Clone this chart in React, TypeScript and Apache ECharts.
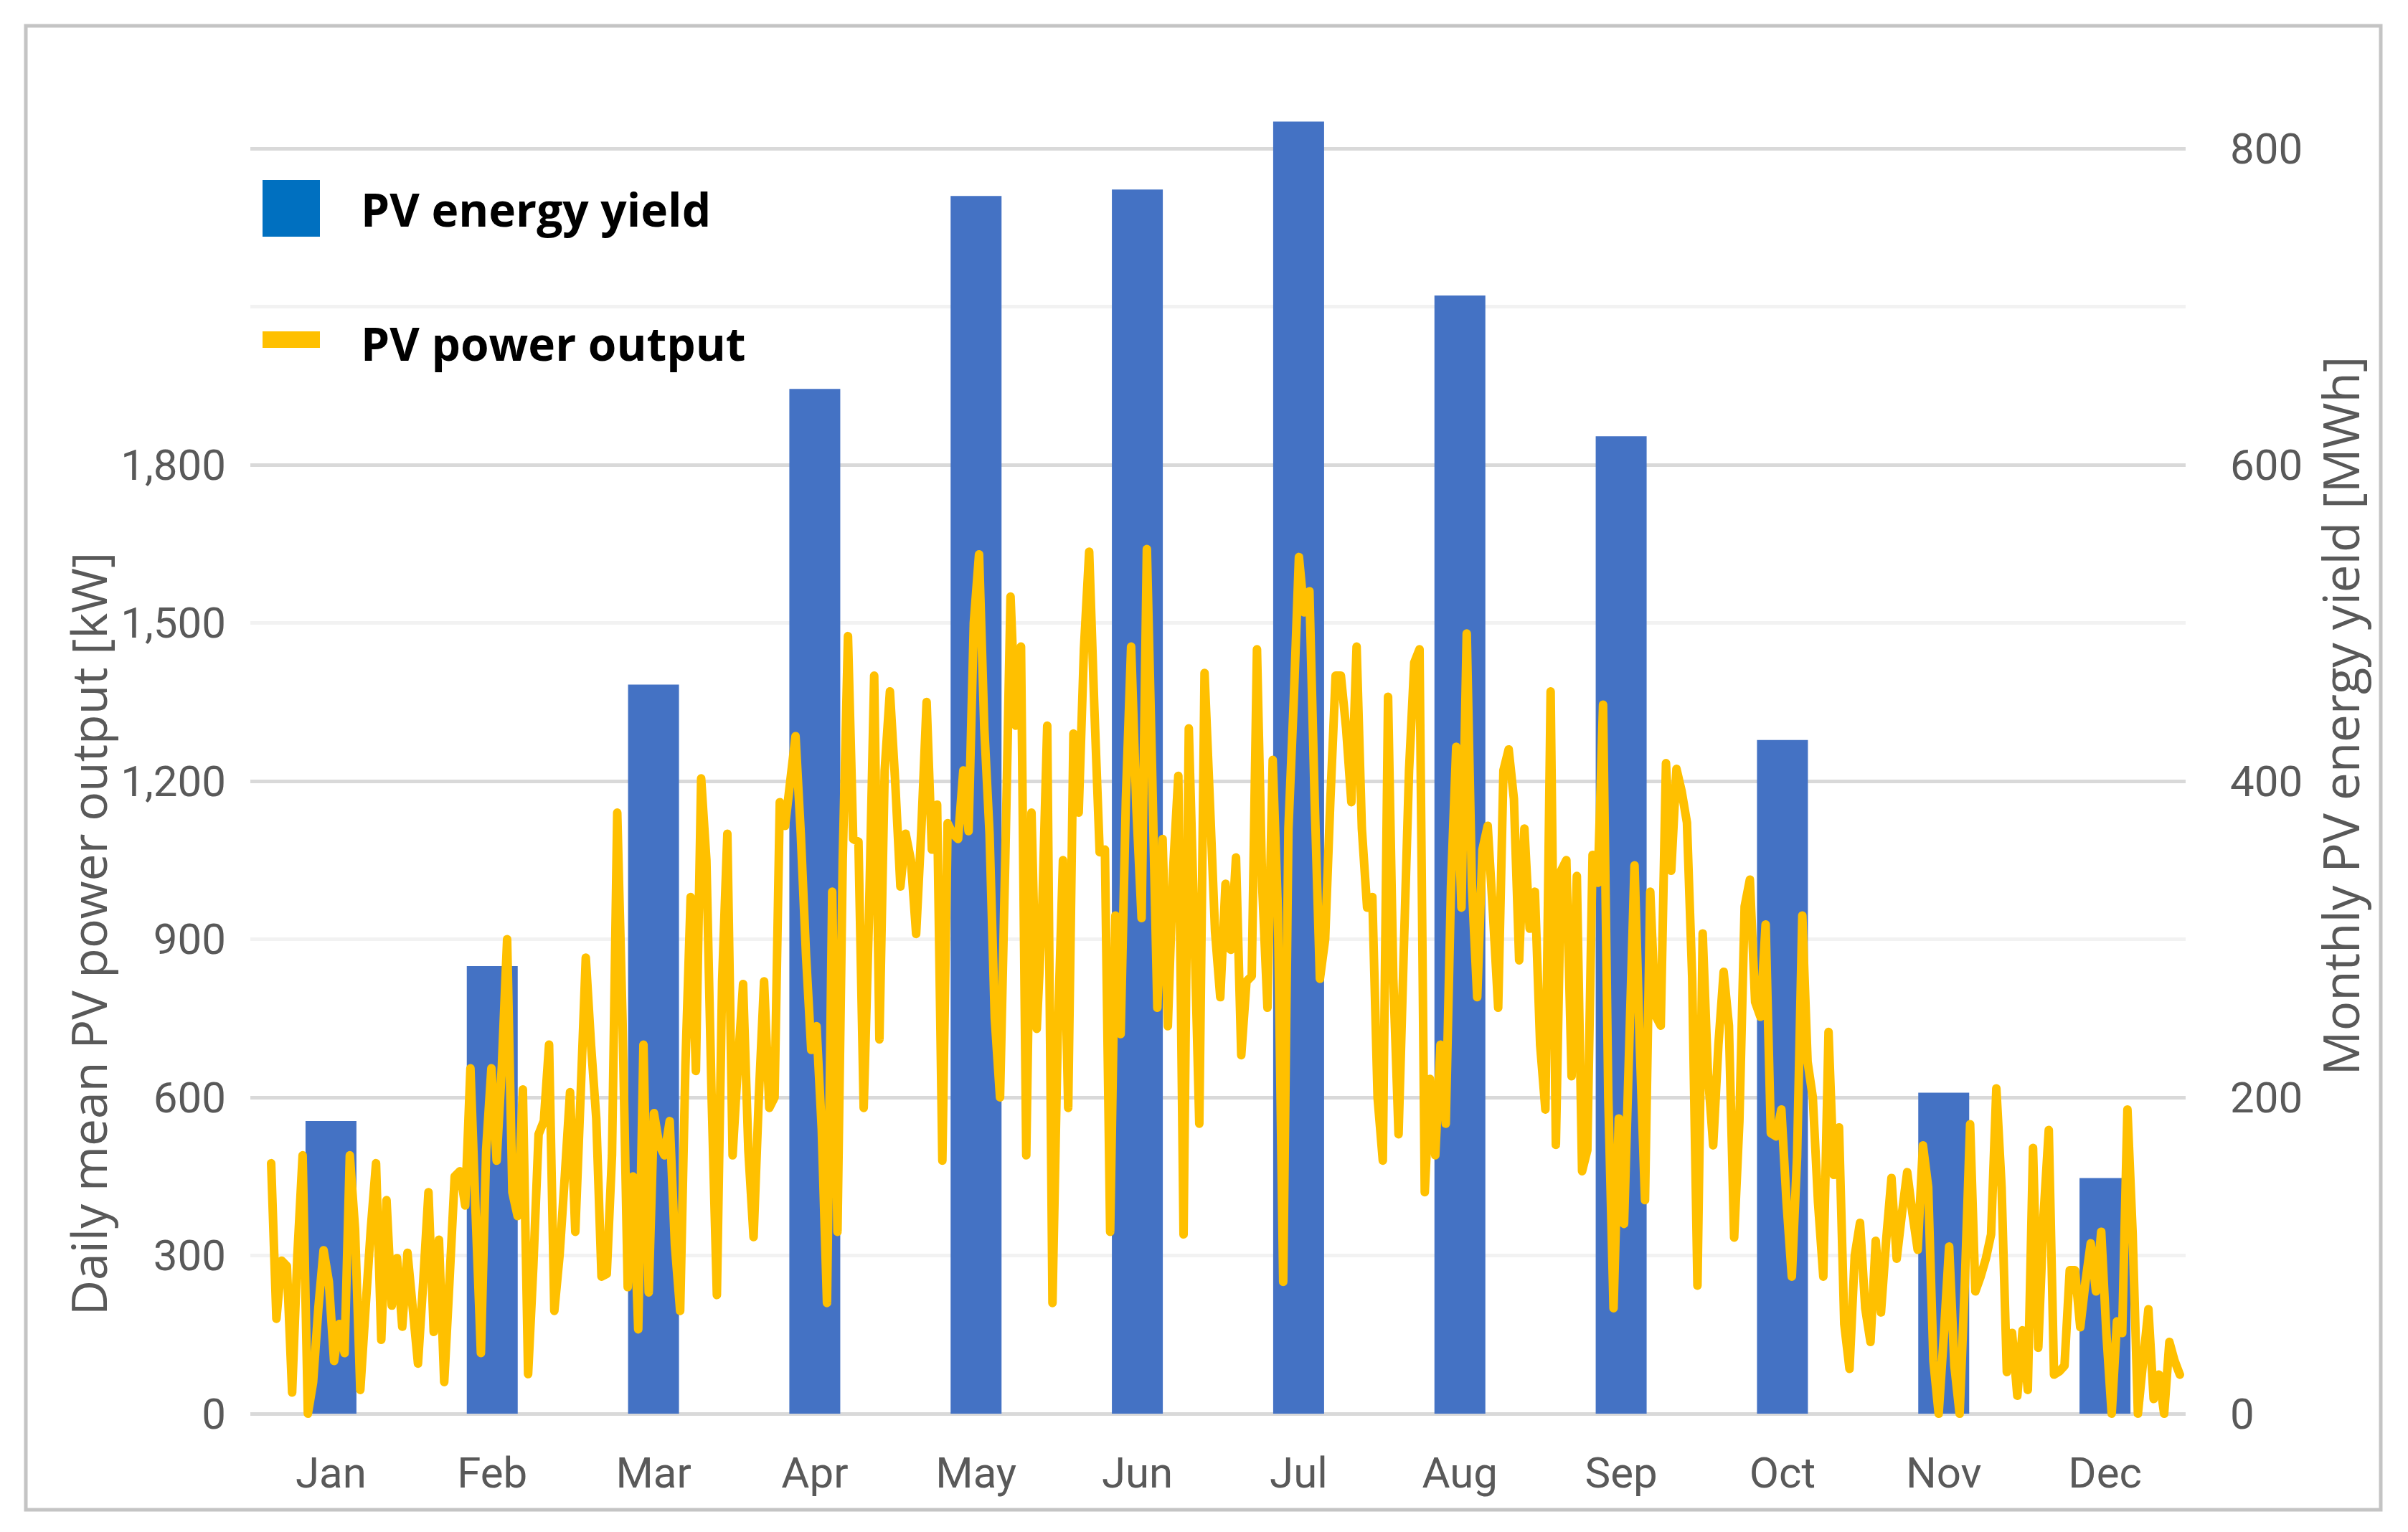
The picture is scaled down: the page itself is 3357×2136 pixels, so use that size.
import React, { useEffect, useRef } from "react";
import * as echarts from "echarts";

const months = ["Jan", "Feb", "Mar", "Apr", "May", "Jun", "Jul", "Aug", "Sep", "Oct", "Nov", "Dec"];
const monthlyYield = [185, 283, 461, 648, 770, 774, 817, 707, 618, 426, 203, 149];

const dailyPower = [
  // days 0-45
  475, 180, 290, 280, 40, 300, 490, 0, 60, 200,
  310, 250, 100, 170, 115, 490, 350, 45, 200, 350,
  475, 140, 405, 205, 295, 165, 305, 200, 95, 250,
  420, 155, 330, 60, 250, 450, 460, 395, 655, 380,
  115, 500, 655, 480, 660, 900,
  // days 46-91
  420, 375, 615, 75, 280, 530, 555, 700, 195, 300,
  450, 610, 345, 600, 865, 700, 560, 260, 265, 490,
  1140, 750, 240, 450, 160, 700, 230, 570, 510, 490,
  555, 320, 195, 660, 980, 650, 1205, 1050, 600, 225,
  820, 1100, 490, 660, 815, 500,
  // days 92-136
  335, 600, 820, 580, 600, 1160, 1115, 1200, 1285, 1100,
  870, 690, 735, 540, 210, 990, 345, 1050, 1475, 1090,
  1085, 580, 940, 1400, 710, 1220, 1370, 1200, 1000, 1100,
  1050, 910, 1110, 1350, 1070, 1155, 480, 1120, 1100, 1090,
  1220, 1105, 1500, 1630, 1300,
  // days 137-181
  1100, 750, 600, 1050, 1550, 1305, 1455, 490, 1140, 730,
  940, 1305, 210, 715, 1050, 580, 1290, 1140, 1450, 1635,
  1335, 1065, 1070, 345, 945, 720, 1165, 1455, 1150, 940,
  1640, 1220, 770, 1090, 735, 1030, 1210, 340, 1300, 940,
  550, 1405, 1165, 915, 790,
  // days 182-227
  1005, 880, 1055, 680, 820, 830, 1450, 1000, 770, 1240,
  950, 250, 1110, 1350, 1625, 1520, 1560, 1165, 825, 900,
  1165, 1400, 1400, 1300, 1160, 1455, 1110, 960, 980, 600,
  480, 1360, 825, 530, 880, 1220, 1425, 1450, 420, 635,
  490, 700, 550, 1000, 1265, 960,
  // days 228-272
  1480, 1000, 790, 1070, 1115, 950, 770, 1220, 1260, 1166,
  860, 1110, 920, 990, 700, 577, 1370, 510, 1030, 1050,
  640, 1020, 460, 500, 1060, 1007, 1345, 600, 200, 560,
  360, 700, 1040, 700, 405, 990, 755, 736, 1234, 1030,
  1223, 1180, 1121, 826, 243,
  // days 273-317
  911, 645, 509, 700, 838, 736, 334, 555, 962, 1013,
  781, 753, 928, 532, 526, 577, 400, 260, 487, 945,
  668, 600, 400, 260, 724, 453, 543, 170, 85, 300,
  362, 200, 136, 328, 192, 330, 447, 294, 380, 458,
  380, 311, 509, 430, 100,
  // days 318-364
  0, 150, 317, 91, 0, 250, 549, 232, 260, 294,
  340, 617, 430, 79, 153, 34, 158, 45, 504, 125,
  374, 538, 74, 80, 91, 272, 272, 164, 250, 323,
  232, 345, 150, 0, 175, 153, 577, 340, 0, 100,
  198, 28, 74, 0, 136, 100, 74,
];

const leftTickMaxShown = 1800;

export default function App() {
  const ref = useRef<HTMLDivElement>(null);

  useEffect(() => {
    if (!ref.current) return;
    const chart = echarts.init(ref.current, undefined, { renderer: "svg" });
    const tickFont = "Roboto, 'Open Sans', sans-serif";
    const titleFont = "'Open Sans', 'Noto Sans', sans-serif";
    const grey = "#595959";

    chart.setOption({
      animation: false,
      backgroundColor: "#ffffff",
      grid: { left: 349, right: 310, top: 207, bottom: 165, containLabel: false },
      xAxis: [
        {
          type: "category",
          data: months,
          axisLine: { show: false },
          axisTick: { show: false },
          splitLine: { show: false },
          axisLabel: { color: grey, fontSize: 60, fontFamily: tickFont, margin: 52 },
        },
        {
          type: "value",
          min: -3.97,
          max: 365.1,
          show: false,
          splitLine: { show: false },
        },
      ],
      yAxis: [
        {
          type: "value",
          position: "left",
          min: 0,
          max: 2400,
          interval: 300,
          axisLine: { show: false },
          axisTick: { show: false },
          axisLabel: {
            color: grey,
            fontSize: 60,
            fontFamily: tickFont,
            margin: 34,
            formatter: (v: number) => (v <= leftTickMaxShown ? v.toLocaleString("en-US") : ""),
          },
          splitLine: {
            show: true,
            lineStyle: { color: ["#d9d9d9", "#f2f2f2"], width: 5 },
          },
        },
        {
          type: "value",
          position: "right",
          min: 0,
          max: 800,
          interval: 200,
          axisLine: { show: false },
          axisTick: { show: false },
          axisLabel: { color: grey, fontSize: 60, fontFamily: tickFont, margin: 62 },
          splitLine: { show: false },
        },
      ],
      series: [
        {
          name: "PV energy yield",
          type: "bar",
          xAxisIndex: 0,
          yAxisIndex: 1,
          data: monthlyYield,
          barWidth: 71,
          clip: false,
          itemStyle: { color: "#4472C4" },
          z: 2,
        },
        {
          name: "PV power output",
          type: "line",
          xAxisIndex: 1,
          yAxisIndex: 0,
          data: dailyPower.map((v, i) => [i, v]),
          showSymbol: false,
          symbol: "none",
          clip: false,
          lineStyle: { color: "#FFC000", width: 12, join: "round", cap: "round" },
          z: 3,
        },
      ],
      graphic: [
        {
          type: "rect",
          shape: { x: 36, y: 36, width: 3283, height: 2069 },
          style: { fill: "none", stroke: "#c4c4c4", lineWidth: 5 },
          silent: true,
          z: 0,
        },
        {
          type: "rect",
          shape: { x: 366, y: 251, width: 80, height: 79 },
          style: { fill: "#0070C0" },
          z: 10,
        },
        {
          type: "text",
          x: 503,
          y: 291,
          style: {
            text: "PV energy yield",
            fill: "#000000",
            font: `bold 64px ${titleFont}`,
            textAlign: "left",
            textVerticalAlign: "middle",
          },
          z: 10,
        },
        {
          type: "rect",
          shape: { x: 366, y: 462, width: 80, height: 23 },
          style: { fill: "#FFC000" },
          z: 10,
        },
        {
          type: "text",
          x: 503,
          y: 478,
          style: {
            text: "PV power output",
            fill: "#000000",
            font: `bold 64px ${titleFont}`,
            textAlign: "left",
            textVerticalAlign: "middle",
          },
          z: 10,
        },
        {
          type: "text",
          x: 122,
          y: 1302,
          rotation: Math.PI / 2,
          style: {
            text: "Daily mean PV power output [kW]",
            fill: grey,
            font: `68px ${titleFont}`,
            textAlign: "center",
            textVerticalAlign: "middle",
          },
          z: 10,
        },
        {
          type: "text",
          x: 3262,
          y: 998,
          rotation: Math.PI / 2,
          style: {
            text: "Monthly PV energy yield [MWh]",
            fill: grey,
            font: `69px ${titleFont}`,
            textAlign: "center",
            textVerticalAlign: "middle",
          },
          z: 10,
        },
      ],
    });

    return () => chart.dispose();
  }, []);

  return (
    <div
      ref={ref}
      style={{ position: "absolute", left: 0, top: 0, width: 3357, height: 2136, background: "#ffffff" }}
    />
  );
}
